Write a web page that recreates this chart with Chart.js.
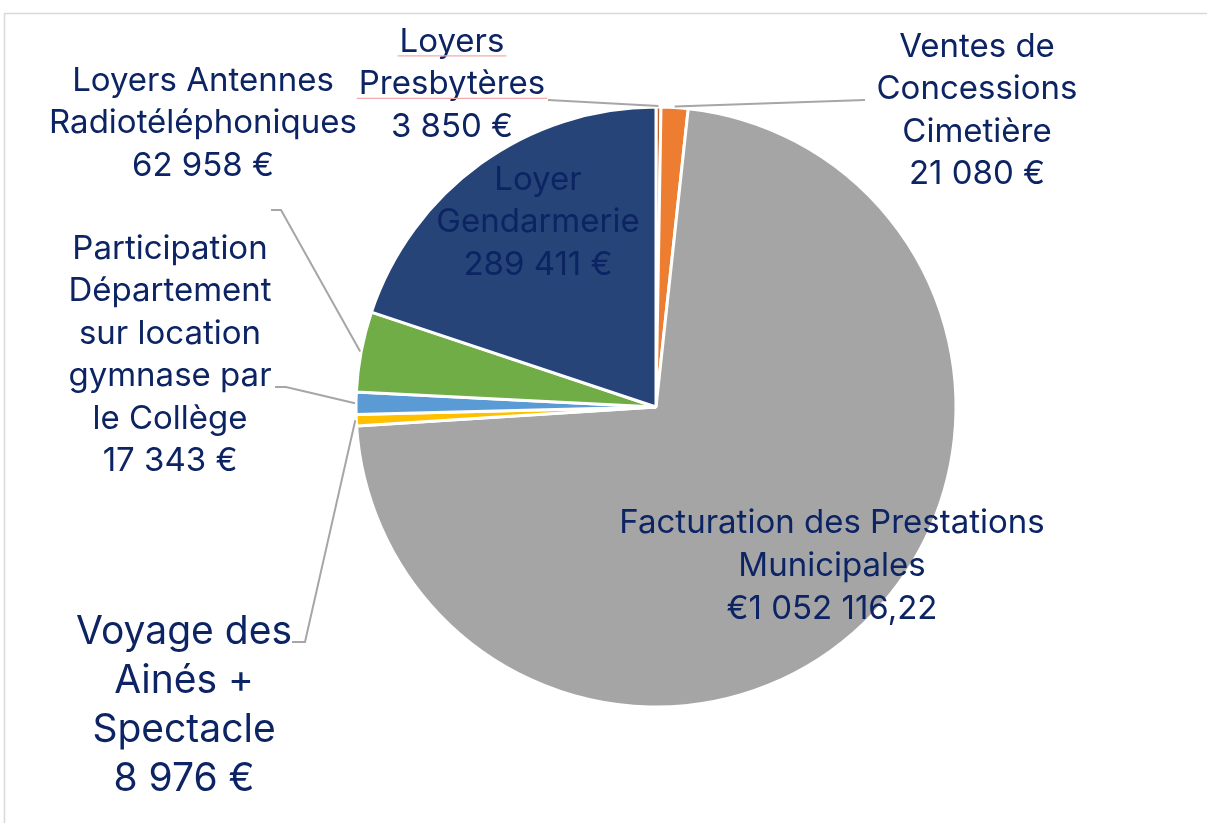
<!DOCTYPE html>
<html>
<head>
<meta charset="utf-8">
<script src="https://cdn.jsdelivr.net/npm/chart.js@4/dist/chart.umd.min.js"></script>
<style>
  html, body { margin: 0; padding: 0; background: #fff; }
  #wrap { width: 1209px; height: 823px; position: relative; }
</style>
</head>
<body>
<div id="wrap"><canvas id="pieChart"></canvas></div>
<script>
// Data
const categories = [
  "Loyers Presbytères",
  "Ventes de Concessions Cimetière",
  "Facturation des Prestations Municipales",
  "Voyage des Ainés + Spectacle",
  "Participation Département sur location gymnase par le Collège",
  "Loyers Antennes Radiotéléphoniques",
  "Loyer Gendarmerie"
];
const amounts = [3850, 21080, 1052116.22, 8976, 17343, 62958, 289411];
const amountLabels = ["3 850 €", "21 080 €", "€1 052 116,22", "8 976 €", "17 343 €", "62 958 €", "289 411 €"];
const labelLines = [
  ["Loyers", "Presbytères"],
  ["Ventes de", "Concessions", "Cimetière"],
  ["Facturation des Prestations", "Municipales"],
  ["Voyage des", "Ainés +", "Spectacle"],
  ["Participation", "Département", "sur location", "gymnase par", "le Collège"],
  ["Loyers Antennes", "Radiotéléphoniques"],
  ["Loyer", "Gendarmerie"]
];
const sliceColors = ['#C0622A', '#ED7D31', '#A5A5A5', '#FFC000', '#5B9BD5', '#70AD47', '#264478'];

// Label layout, offsets from the pie centre
const labelLayout = [
  { x: -204, y: -365, size: 33, lh: 42.5, start: [-108, -307], underline: true },
  { x: 321, y: -360, size: 33, lh: 42.5, start: [209, -307] },
  { x: 176, y: 116, size: 33, lh: 43 },
  { x: -472, y: 225, size: 39, lh: 49, start: [-364, 235], elbow: [-351, 235] },
  { x: -486, y: -158, size: 33, lh: 42.5, start: [-381, -20], elbow: [-370, -20] },
  { x: -453, y: -326, size: 33, lh: 42.5, start: [-385, -197], elbow: [-375, -197] },
  { x: -118, y: -227, size: 33, lh: 42.5 }
];

const textColor = '#0C2463';
const fontFamily = 'Inter, "Open Sans", sans-serif';

const labelPlugin = {
  id: 'pieLabels',
  beforeDraw(chart) {
    const ctx = chart.ctx;
    ctx.save();
    ctx.strokeStyle = '#D9D9D9';
    ctx.lineWidth = 1.5;
    ctx.beginPath();
    ctx.moveTo(4.5, chart.height);
    ctx.lineTo(4.5, 13.5);
    ctx.lineTo(1207, 13.5);
    ctx.stroke();
    ctx.restore();
  },
  afterDraw(chart) {
    const ctx = chart.ctx;
    const arcs = chart.getDatasetMeta(0).data;
    ctx.save();
    arcs.forEach((arc, i) => {
      const lay = labelLayout[i];
      const cx = arc.x, cy = arc.y;
      // leader line
      if (lay.start) {
        const mid = (arc.startAngle + arc.endAngle) / 2;
        const r = arc.outerRadius + 1;
        const ax = cx + Math.cos(mid) * r;
        const ay = cy + Math.sin(mid) * r;
        ctx.strokeStyle = '#A6A6A6';
        ctx.lineWidth = 2;
        ctx.beginPath();
        ctx.moveTo(cx + lay.start[0], cy + lay.start[1]);
        if (lay.elbow) ctx.lineTo(cx + lay.elbow[0], cy + lay.elbow[1]);
        ctx.lineTo(ax, ay);
        ctx.stroke();
      }
      // text
      const lines = labelLines[i].concat([amountLabels[i]]);
      ctx.font = lay.size + 'px ' + fontFamily;
      ctx.fillStyle = textColor;
      ctx.textAlign = 'center';
      ctx.textBaseline = 'middle';
      lines.forEach((ln, k) => {
        const tx = cx + lay.x;
        const ty = cy + lay.y + k * lay.lh;
        ctx.fillText(ln, tx, ty);
        if (lay.underline && k < lines.length - 1) {
          const w = ctx.measureText(ln).width;
          ctx.strokeStyle = '#F4AAAA';
          ctx.lineWidth = 1.2;
          ctx.beginPath();
          ctx.moveTo(tx - w / 2 - 2, ty + lay.size * 0.42);
          ctx.lineTo(tx + w / 2 + 2, ty + lay.size * 0.42);
          ctx.stroke();
        }
      });
    });
    ctx.restore();
  }
};

const data = {
  labels: categories,
  datasets: [{
    data: amounts,
    backgroundColor: sliceColors,
    borderColor: '#FFFFFF',
    borderWidth: 3,
    hoverOffset: 0
  }]
};

const options = {
  responsive: false,
  animation: false,
  layout: {
    padding: { left: 354.5, right: 251.5, top: 105.5, bottom: 114.5 }
  },
  plugins: {
    legend: { display: false },
    tooltip: { enabled: false }
  }
};

const canvas = document.getElementById('pieChart');
canvas.width = 1209;
canvas.height = 823;

const myChart = new Chart(canvas, {
  type: 'pie',
  data: data,
  options: options,
  plugins: [labelPlugin]
});
</script>
</body>
</html>
